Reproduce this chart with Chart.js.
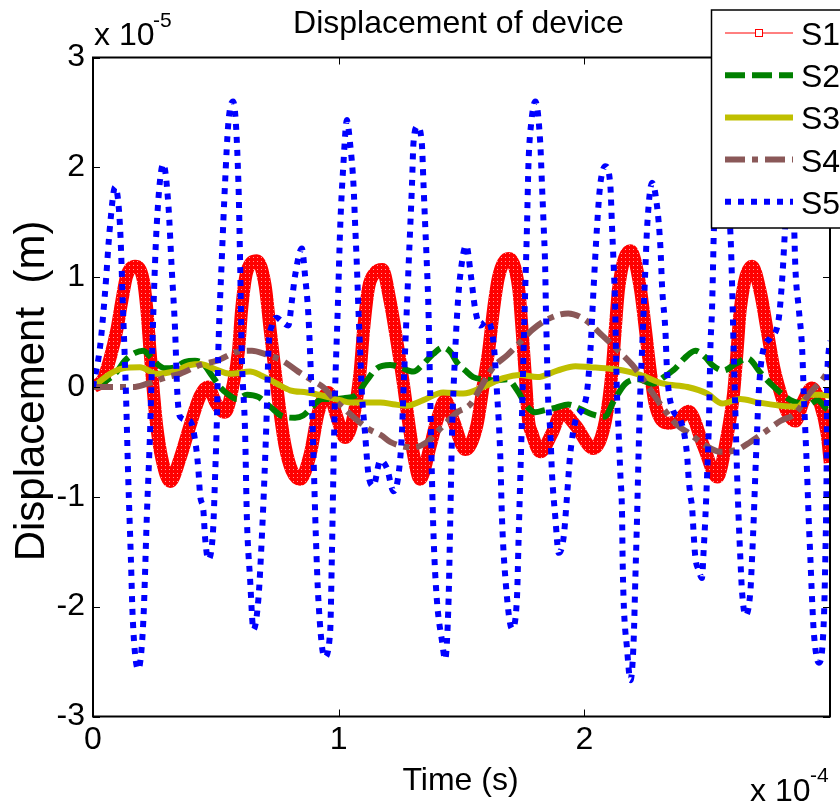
<!DOCTYPE html>
<html>
<head>
<meta charset="utf-8">
<script src="https://cdn.jsdelivr.net/npm/chart.js@4/dist/chart.umd.min.js"></script>
<style>
  html, body { margin: 0; padding: 0; background: #ffffff; }
  #wrap { width: 840px; height: 805px; }
</style>
</head>
<body>
<div id="wrap"><canvas id="chart" width="840" height="805"></canvas></div>
<script>
// Time in units of 1e-4 s, displacement in units of 1e-5 m.
const seriesNames = ['S1', 'S2', 'S3', 'S4', 'S5'];
const xTickValues = [0, 1, 2];
const yTickValues = [-3, -2, -1, 0, 1, 2, 3];

const s1 = [[0,0],[0.041,0.07],[0.069,0.26],[0.097,0.52],[0.117,0.78],[0.137,1.01],[0.171,1.1],[0.205,0.97],[0.219,0.71],[0.232,0.33],[0.246,-0.05],[0.259,-0.35],[0.280,-0.65],[0.314,-0.86],[0.354,-0.65],[0.395,-0.35],[0.436,-0.08],[0.468,0.0],[0.501,-0.15],[0.537,-0.23],[0.571,0.03],[0.592,0.33],[0.605,0.71],[0.626,1.05],[0.667,1.15],[0.700,0.93],[0.721,0.52],[0.741,0.14],[0.761,-0.23],[0.782,-0.54],[0.809,-0.76],[0.843,-0.84],[0.884,-0.61],[0.917,-0.23],[0.958,-0.05],[0.992,-0.27],[1.026,-0.46],[1.060,-0.27],[1.087,0.14],[1.101,0.52],[1.121,0.9],[1.148,1.04],[1.177,1.07],[1.209,0.78],[1.237,0.41],[1.263,0.03],[1.283,-0.3],[1.304,-0.61],[1.331,-0.84],[1.372,-0.54],[1.399,-0.31],[1.433,-0.12],[1.467,-0.31],[1.515,-0.57],[1.562,-0.35],[1.589,0.03],[1.610,0.33],[1.630,0.71],[1.650,1.0],[1.691,1.17],[1.732,0.9],[1.746,0.52],[1.759,0.11],[1.772,-0.3],[1.786,-0.42],[1.820,-0.59],[1.868,-0.42],[1.908,-0.23],[1.963,-0.35],[2.037,-0.56],[2.085,-0.31],[2.112,0.14],[2.125,0.52],[2.139,0.9],[2.187,1.24],[2.227,0.9],[2.248,0.52],[2.268,0.14],[2.288,-0.16],[2.341,-0.33],[2.382,-0.3],[2.423,-0.22],[2.485,-0.54],[2.540,-0.82],[2.580,-0.45],[2.607,-0.05],[2.621,0.33],[2.634,0.71],[2.682,1.1],[2.716,0.86],[2.743,0.52],[2.770,0.18],[2.797,-0.05],[2.825,-0.23],[2.858,-0.31],[2.892,-0.12],[2.926,-0.01],[2.960,-0.16],[2.987,-0.42],[3.0,-0.69]];

const s2 = [[0,0],[0.049,0.05],[0.097,0.14],[0.130,0.24],[0.171,0.31],[0.204,0.33],[0.232,0.28],[0.261,0.21],[0.293,0.17],[0.334,0.18],[0.375,0.23],[0.415,0.24],[0.448,0.21],[0.485,0.1],[0.517,0.0],[0.546,-0.06],[0.586,-0.11],[0.627,-0.07],[0.672,-0.09],[0.721,-0.18],[0.774,-0.27],[0.822,-0.28],[0.855,-0.26],[0.892,-0.18],[0.932,-0.11],[0.977,-0.11],[1.026,-0.1],[1.067,-0.08],[1.114,0.06],[1.155,0.17],[1.209,0.2],[1.250,0.18],[1.303,0.14],[1.344,0.21],[1.384,0.3],[1.425,0.36],[1.454,0.32],[1.482,0.22],[1.515,0.15],[1.547,0.09],[1.596,0.07],[1.637,0.06],[1.686,0.07],[1.726,-0.03],[1.767,-0.18],[1.800,-0.23],[1.840,-0.21],[1.881,-0.19],[1.934,-0.16],[1.983,-0.2],[2.032,-0.25],[2.081,-0.27],[2.121,-0.12],[2.166,0.03],[2.219,0.07],[2.276,0.03],[2.329,0.1],[2.370,0.17],[2.406,0.26],[2.451,0.33],[2.492,0.27],[2.520,0.2],[2.565,0.15],[2.614,0.21],[2.663,0.26],[2.716,0.13],[2.757,0.03],[2.797,-0.05],[2.838,-0.12],[2.879,-0.15],[2.911,-0.16],[2.948,-0.12],[2.985,-0.2],[3.0,-0.22]];

const s3 = [[0,0],[0.069,0.12],[0.122,0.17],[0.191,0.18],[0.261,0.12],[0.326,0.14],[0.395,0.2],[0.436,0.21],[0.489,0.17],[0.558,0.12],[0.639,0.14],[0.680,0.11],[0.749,0.03],[0.802,-0.03],[0.871,-0.05],[0.936,-0.08],[1.006,-0.12],[1.046,-0.14],[1.107,-0.14],[1.169,-0.14],[1.230,-0.16],[1.279,-0.17],[1.344,-0.12],[1.425,-0.05],[1.507,-0.06],[1.588,0.0],[1.669,0.08],[1.739,0.11],[1.808,0.09],[1.889,0.15],[1.963,0.19],[2.024,0.18],[2.085,0.17],[2.158,0.15],[2.227,0.11],[2.321,0.03],[2.419,0.0],[2.500,-0.06],[2.561,-0.15],[2.634,-0.11],[2.704,-0.14],[2.797,-0.17],[2.866,-0.18],[2.919,-0.07],[2.960,-0.07],[3.0,-0.08]];

const s4 = [[0,0],[0.057,0.0],[0.163,0.0],[0.220,0.03],[0.301,0.09],[0.354,0.12],[0.436,0.2],[0.505,0.24],[0.586,0.32],[0.647,0.33],[0.700,0.3],[0.770,0.24],[0.835,0.14],[0.892,0.06],[0.936,0.0],[0.985,-0.12],[1.038,-0.23],[1.120,-0.38],[1.173,-0.44],[1.209,-0.5],[1.303,-0.55],[1.360,-0.5],[1.413,-0.38],[1.482,-0.23],[1.535,-0.16],[1.576,-0.01],[1.629,0.18],[1.686,0.29],[1.739,0.41],[1.787,0.52],[1.853,0.62],[1.934,0.67],[2.003,0.61],[2.072,0.47],[2.138,0.33],[2.195,0.2],[2.260,0.0],[2.329,-0.22],[2.374,-0.34],[2.431,-0.43],[2.484,-0.52],[2.553,-0.59],[2.622,-0.57],[2.675,-0.5],[2.740,-0.4],[2.797,-0.31],[2.858,-0.24],[2.919,-0.05],[2.972,0.08],[3.0,0.18]];

const s5 = [[0,0],[0.029,0.37],[0.049,0.86],[0.069,1.46],[0.090,1.82],[0.110,1.46],[0.122,0.71],[0.134,-0.05],[0.143,-0.8],[0.154,-1.55],[0.162,-2.12],[0.184,-2.57],[0.205,-2.12],[0.219,-1.18],[0.232,-0.42],[0.246,0.71],[0.259,1.46],[0.286,2.03],[0.307,1.65],[0.320,1.09],[0.334,0.52],[0.343,-0.05],[0.354,-0.27],[0.395,-0.31],[0.419,-0.54],[0.429,-0.76],[0.436,-0.99],[0.449,-1.12],[0.456,-1.37],[0.469,-1.57],[0.489,-1.29],[0.497,-0.8],[0.504,-0.31],[0.510,0.33],[0.524,1.16],[0.537,1.84],[0.551,2.41],[0.570,2.6],[0.592,1.84],[0.599,1.09],[0.605,0.33],[0.619,-0.42],[0.626,-1.18],[0.639,-1.74],[0.653,-2.21],[0.673,-1.93],[0.687,-1.37],[0.698,-0.8],[0.707,-0.23],[0.714,0.33],[0.728,0.56],[0.748,0.63],[0.768,0.6],[0.795,0.56],[0.809,0.78],[0.822,1.01],[0.850,1.26],[0.863,1.01],[0.877,0.63],[0.888,0.03],[0.897,-0.61],[0.907,-1.37],[0.917,-1.93],[0.942,-2.46],[0.965,-2.23],[0.972,-1.55],[0.978,-0.8],[0.985,-0.05],[0.996,0.71],[1.006,1.46],[1.019,2.03],[1.033,2.43],[1.046,2.22],[1.060,1.84],[1.067,1.46],[1.074,1.09],[1.080,0.71],[1.087,0.33],[1.094,-0.05],[1.107,-0.42],[1.121,-0.8],[1.141,-0.9],[1.169,-0.67],[1.196,-0.74],[1.223,-0.95],[1.243,-0.8],[1.257,-0.42],[1.263,-0.05],[1.270,0.33],[1.277,0.71],[1.284,1.09],[1.291,1.46],[1.298,1.84],[1.304,2.22],[1.320,2.37],[1.338,2.22],[1.345,1.84],[1.352,1.46],[1.359,1.09],[1.365,0.71],[1.372,-0.05],[1.379,-0.8],[1.386,-1.37],[1.399,-1.93],[1.420,-2.31],[1.433,-2.48],[1.447,-1.93],[1.454,-1.18],[1.461,-0.42],[1.474,0.33],[1.483,0.71],[1.494,1.01],[1.519,1.29],[1.538,1.01],[1.555,0.71],[1.576,0.56],[1.603,0.6],[1.630,0.4],[1.644,-0.05],[1.657,-0.61],[1.664,-1.18],[1.678,-1.74],[1.705,-2.2],[1.725,-1.93],[1.732,-1.37],[1.739,-0.8],[1.746,-0.23],[1.752,0.33],[1.759,0.9],[1.766,1.46],[1.772,2.03],[1.783,2.4],[1.800,2.6],[1.820,2.22],[1.827,1.84],[1.834,1.46],[1.840,1.09],[1.843,0.71],[1.847,0.33],[1.851,-0.05],[1.861,-0.42],[1.868,-0.8],[1.881,-1.18],[1.895,-1.51],[1.915,-1.37],[1.929,-0.99],[1.942,-0.61],[1.963,-0.31],[1.991,-0.2],[2.010,-0.05],[2.024,0.33],[2.037,0.9],[2.051,1.46],[2.064,1.84],[2.085,2.01],[2.105,1.84],[2.112,1.46],[2.119,1.09],[2.125,0.71],[2.128,0.33],[2.132,-0.05],[2.139,-0.42],[2.146,-0.8],[2.153,-1.18],[2.155,-1.55],[2.159,-1.93],[2.173,-2.38],[2.187,-2.67],[2.200,-2.31],[2.207,-1.74],[2.214,-1.18],[2.220,-0.61],[2.227,-0.05],[2.234,0.33],[2.241,0.71],[2.248,1.09],[2.255,1.46],[2.275,1.86],[2.295,1.65],[2.309,1.27],[2.316,0.9],[2.329,0.52],[2.336,0.14],[2.358,-0.2],[2.390,-0.3],[2.417,-0.61],[2.424,-0.84],[2.431,-0.99],[2.438,-1.1],[2.444,-1.33],[2.451,-1.55],[2.465,-1.67],[2.478,-1.74],[2.485,-1.48],[2.492,-1.18],[2.499,-0.8],[2.505,-0.42],[2.509,-0.05],[2.512,0.33],[2.519,0.71],[2.523,1.09],[2.526,1.39],[2.541,1.85],[2.557,1.95],[2.577,1.8],[2.594,1.39],[2.601,0.9],[2.607,0.33],[2.614,-0.23],[2.621,-0.8],[2.627,-1.18],[2.634,-1.55],[2.641,-1.86],[2.655,-2.08],[2.675,-1.86],[2.682,-1.55],[2.689,-1.18],[2.695,-0.8],[2.702,-0.42],[2.709,-0.05],[2.724,0.3],[2.757,0.45],[2.789,0.6],[2.805,1.0],[2.818,1.5],[2.838,1.95],[2.850,1.7],[2.858,1.09],[2.872,0.71],[2.886,0.33],[2.892,-0.05],[2.899,-0.42],[2.906,-0.8],[2.912,-1.18],[2.919,-1.55],[2.926,-1.93],[2.933,-2.23],[2.953,-2.51],[2.974,-2.12],[2.980,-1.55],[2.985,-0.8],[2.987,-0.05],[2.994,0.33],[3.0,0.42]];

const FONT = "'Liberation Sans', Arial, sans-serif";
const toPoints = arr => arr.map(([t, d]) => ({ x: t, y: d }));

// S1 is a dense run of square markers; a speckled red stroke renders that band.
function markerBand() {
  const tile = document.createElement('canvas');
  tile.width = 4; tile.height = 4;
  const c = tile.getContext('2d');
  c.fillStyle = '#ff0000';
  c.fillRect(0, 0, 4, 4);
  c.fillStyle = '#ff9c9c';
  c.fillRect(1, 1, 1, 1);
  return document.getElementById('chart').getContext('2d').createPattern(tile, 'repeat');
}

const styles = [
  { color: '#ff0000', stroke: markerBand(), width: 13, dash: [], legendWidth: 1, marker: true },
  { color: '#008000', width: 6, dash: [20, 7] },
  { color: '#bfbf00', width: 6, dash: [] },
  { color: '#8a5858', width: 6, dash: [20, 7, 6, 7] },
  { color: '#0000ff', width: 6, dash: [6, 7] }
];
const seriesData = [s1, s2, s3, s4, s5];

const datasets = seriesData.map((arr, i) => ({
  label: seriesNames[i],
  data: toPoints(arr),
  borderColor: styles[i].stroke || styles[i].color,
  borderWidth: styles[i].width,
  borderDash: styles[i].dash,
  borderCapStyle: 'butt',
  borderJoinStyle: 'round',
  pointRadius: 0,
  fill: false,
  tension: 0.4,
  cubicInterpolationMode: 'monotone',
  clip: 0,
  order: 5 - i
}));

const decorations = {
  id: 'decorations',
  afterDatasetsDraw(chart) {
    const { ctx, chartArea: a, scales: { x, y } } = chart;
    ctx.save();
    ctx.strokeStyle = '#000000';
    ctx.lineWidth = 1;
    const tl = 7;
    ctx.beginPath();
    xTickValues.forEach(v => {
      const px = Math.round(x.getPixelForValue(v)) + 0.5;
      ctx.moveTo(px, a.bottom); ctx.lineTo(px, a.bottom - tl);
      ctx.moveTo(px, a.top); ctx.lineTo(px, a.top + tl);
    });
    yTickValues.forEach(v => {
      const py = Math.round(y.getPixelForValue(v)) + 0.5;
      ctx.moveTo(a.left, py); ctx.lineTo(a.left + tl, py);
      ctx.moveTo(a.right, py); ctx.lineTo(a.right - tl, py);
    });
    ctx.stroke();
    ctx.lineWidth = 2;
    ctx.strokeRect(a.left, a.top, a.right - a.left, a.bottom - a.top);
    ctx.restore();
  },
  afterDraw(chart) {
    const { ctx, chartArea: a } = chart;
    ctx.save();
    ctx.fillStyle = '#000000';
    ctx.textBaseline = 'alphabetic';

    // title
    ctx.font = `32px ${FONT}`;
    ctx.textAlign = 'center';
    ctx.fillText('Displacement of device', (a.left + a.right) / 2 - 3, 33);

    // x axis title
    ctx.fillText('Time (s)', (a.left + a.right) / 2 - 1, 790);

    // y axis title
    ctx.save();
    ctx.font = `42px ${FONT}`;
    ctx.translate(44, 391);
    ctx.rotate(-Math.PI / 2);
    ctx.fillText('Displacement  (m)', 0, 0);
    ctx.restore();

    // scale exponents
    ctx.textAlign = 'left';
    ctx.font = `32px ${FONT}`;
    ctx.fillText('x 10', a.left + 1, 45);
    ctx.font = `21px ${FONT}`;
    ctx.fillText('-5', 153, 27);
    ctx.font = `32px ${FONT}`;
    ctx.fillText('x 10', 750, 801);
    ctx.font = `21px ${FONT}`;
    ctx.fillText('-4', 810, 782);

    // legend box
    const lx = 711.5, ly = 10, lw = 140, lh = 218;
    ctx.fillStyle = '#ffffff';
    ctx.fillRect(lx, ly, lw, lh);
    ctx.strokeStyle = '#000000';
    ctx.lineWidth = 1.5;
    ctx.strokeRect(lx, ly, lw, lh);

    chart.data.datasets.forEach((ds, i) => {
      const st = styles[i];
      const rowY = 33 + i * 42.2;
      ctx.save();
      ctx.strokeStyle = st.color;
      ctx.lineWidth = st.legendWidth || st.width;
      ctx.lineCap = 'butt';
      ctx.setLineDash(st.dash);
      ctx.beginPath();
      ctx.moveTo(725, rowY);
      ctx.lineTo(793, rowY);
      ctx.stroke();
      if (st.marker) {
        ctx.setLineDash([]);
        ctx.lineWidth = 1;
        ctx.fillStyle = '#ffffff';
        ctx.fillRect(755.5, rowY - 3.5, 7, 7);
        ctx.strokeRect(755.5, rowY - 3.5, 7, 7);
      }
      ctx.restore();
      ctx.fillStyle = '#000000';
      ctx.font = `32px ${FONT}`;
      ctx.textAlign = 'left';
      ctx.fillText(ds.label, 801, rowY + 12);
    });
    ctx.restore();
  }
};

new Chart(document.getElementById('chart'), {
  type: 'line',
  data: { datasets },
  options: {
    responsive: false,
    animation: false,
    events: [],
    layout: { padding: { top: 57.5, right: 10, left: 0, bottom: 0 } },
    plugins: { legend: { display: false }, title: { display: false }, tooltip: { enabled: false } },
    scales: {
      x: {
        type: 'linear',
        min: 0,
        max: 2.999,
        afterBuildTicks: s => { s.ticks = xTickValues.map(v => ({ value: v })); },
        afterFit: s => { s.height = 88.5; },
        grid: { display: false, drawTicks: false },
        border: { display: false },
        ticks: {
          color: '#000000',
          font: { family: FONT, size: 32 },
          padding: 4,
          maxRotation: 0,
          autoSkip: false,
          callback: v => String(v)
        }
      },
      y: {
        type: 'linear',
        min: -3,
        max: 3,
        afterBuildTicks: s => { s.ticks = yTickValues.map(v => ({ value: v })); },
        afterFit: s => { s.width = 93; },
        grid: { display: false, drawTicks: false },
        border: { display: false },
        ticks: {
          color: '#000000',
          font: { family: FONT, size: 32 },
          padding: 8,
          autoSkip: false,
          callback: v => String(v)
        }
      }
    }
  },
  plugins: [decorations]
});
</script>
</body>
</html>
